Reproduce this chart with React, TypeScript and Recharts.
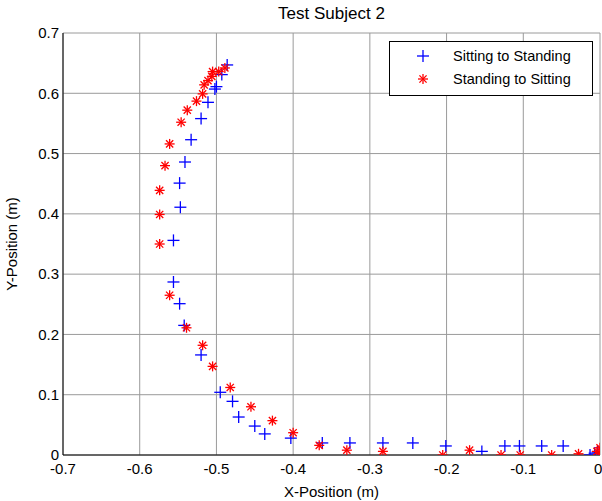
import React from "react";
import {
  CartesianGrid,
  Scatter,
  ScatterChart,
  XAxis,
  YAxis,
} from "recharts";

const sitToStandX = [
  -0.486, -0.493, -0.5, -0.502, -0.511, -0.52, -0.533, -0.541, -0.548, -0.547,
  -0.556, -0.556, -0.548, -0.542, -0.52, -0.495, -0.479, -0.471, -0.45, -0.437,
  -0.403, -0.362, -0.326, -0.283, -0.244, -0.201, -0.154, -0.124, -0.105,
  -0.076, -0.048, -0.013, -0.007, -0.003,
];
const sitToStandY = [
  0.647, 0.631, 0.611, 0.607, 0.585, 0.558, 0.523, 0.486, 0.451, 0.411, 0.356,
  0.287, 0.251, 0.215, 0.166, 0.104, 0.089, 0.063, 0.048, 0.035, 0.028, 0.02,
  0.02, 0.02, 0.02, 0.015, 0.006, 0.015, 0.015, 0.015, 0.015, 0.0, 0.003, 0.005,
];

const standToSitX = [
  -0.489, -0.497, -0.505, -0.506, -0.511, -0.516, -0.518, -0.526, -0.538,
  -0.546, -0.561, -0.567, -0.574, -0.574, -0.574, -0.561, -0.539, -0.518,
  -0.505, -0.482, -0.455, -0.427, -0.4, -0.366, -0.33, -0.283, -0.205, -0.17,
  -0.129, -0.104, -0.063, -0.028, -0.004, 0.0, 0.0,
];
const standToSitY = [
  0.642, 0.636, 0.636, 0.628, 0.621, 0.614, 0.599, 0.587, 0.572, 0.552, 0.516,
  0.48, 0.439, 0.399, 0.35, 0.265, 0.211, 0.182, 0.147, 0.112, 0.08, 0.057,
  0.037, 0.016, 0.008, 0.006, 0.0, 0.008, 0.0, 0.0, 0.0, 0.002, 0.006, 0.012,
  0.003,
];

const xTicks = [-0.7, -0.6, -0.5, -0.4, -0.3, -0.2, -0.1, 0];
const yTicks = [0, 0.1, 0.2, 0.3, 0.4, 0.5, 0.6, 0.7];

const sitData = sitToStandX.map((x, i) => ({ x, y: sitToStandY[i] }));
const standData = standToSitX.map((x, i) => ({ x, y: standToSitY[i] }));

const FONT = "'Liberation Sans', Arial, sans-serif";

function PlusMark({ cx, cy }: any) {
  const s = 6;
  return (
    <g stroke="#0000ff" strokeWidth={1.3}>
      <line x1={cx - s} y1={cy} x2={cx + s} y2={cy} />
      <line x1={cx} y1={cy - s} x2={cx} y2={cy + s} />
    </g>
  );
}

function StarMark({ cx, cy }: any) {
  const s = 5;
  const d = 3.6;
  return (
    <g stroke="#ff0000" strokeWidth={1.3}>
      <line x1={cx - s} y1={cy} x2={cx + s} y2={cy} />
      <line x1={cx} y1={cy - s} x2={cx} y2={cy + s} />
      <line x1={cx - d} y1={cy - d} x2={cx + d} y2={cy + d} />
      <line x1={cx - d} y1={cy + d} x2={cx + d} y2={cy - d} />
    </g>
  );
}

function LegendBox() {
  return (
    <div
      style={{
        position: "absolute",
        top: 41,
        left: 389,
        width: 204,
        height: 55,
        border: "1px solid #000",
        background: "#fff",
        fontFamily: FONT,
        fontSize: 14.5,
        color: "#000",
        boxSizing: "border-box",
        paddingTop: 2,
      }}
    >
      {[
        { label: "Sitting to Standing", Mark: PlusMark },
        { label: "Standing to Sitting", Mark: StarMark },
      ].map(({ label, Mark }) => (
        <div
          key={label}
          style={{ display: "flex", alignItems: "center", height: 23 }}
        >
          <svg width={63} height={20}>
            <Mark cx={33} cy={10} />
          </svg>
          <span>{label}</span>
        </div>
      ))}
    </div>
  );
}

export default function App() {
  return (
    <div style={{ position: "absolute", left: 0, top: 0, width: 602, height: 501, background: "#fff" }}>
      <div
        style={{
          position: "absolute",
          top: 4,
          left: 63,
          width: 537,
          textAlign: "center",
          fontFamily: FONT,
          fontSize: 17,
        }}
      >
        Test Subject 2
      </div>
      <ScatterChart
        width={602}
        height={501}
        margin={{ top: 33, right: 2, bottom: 0, left: 0 }}
        style={{ fontFamily: FONT }}
      >
        <CartesianGrid stroke="#9a9a9a" strokeWidth={1} />
        <XAxis
          type="number"
          dataKey="x"
          domain={[-0.7, 0]}
          ticks={xTicks}
          allowDataOverflow
          height={46}
          tickSize={0}
          tickMargin={8}
          axisLine={{ stroke: "#000" }}
          tick={{ fill: "#000", fontSize: 15 }}
          label={{
            value: "X-Position (m)",
            position: "insideBottom",
            offset: 4,
            fill: "#000",
            fontSize: 15,
          }}
        />
        <XAxis
          xAxisId="top"
          orientation="top"
          type="number"
          domain={[-0.7, 0]}
          height={0}
          tick={false}
          tickLine={false}
          axisLine={{ stroke: "#000" }}
        />
        <YAxis
          type="number"
          dataKey="y"
          domain={[0, 0.7]}
          ticks={yTicks}
          allowDataOverflow
          width={63}
          tickSize={0}
          tickMargin={4}
          axisLine={{ stroke: "#000" }}
          tick={{ fill: "#000", fontSize: 15 }}
          label={{
            value: "Y-Position (m)",
            angle: -90,
            position: "insideLeft",
            offset: 12,
            fill: "#000",
            fontSize: 15,
            style: { textAnchor: "middle" },
          }}
        />
        <YAxis
          yAxisId="right"
          orientation="right"
          type="number"
          domain={[0, 0.7]}
          width={0}
          tick={false}
          tickLine={false}
          axisLine={{ stroke: "#000", strokeWidth: 2 }}
        />
        <Scatter
          name="Sitting to Standing"
          data={sitData}
          shape={PlusMark}
          isAnimationActive={false}
        />
        <Scatter
          name="Standing to Sitting"
          data={standData}
          shape={StarMark}
          isAnimationActive={false}
        />
      </ScatterChart>
      <LegendBox />
    </div>
  );
}
